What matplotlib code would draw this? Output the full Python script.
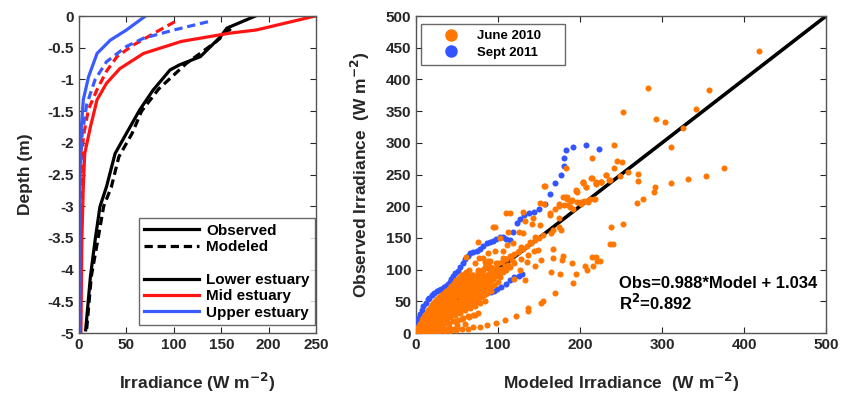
import numpy as np
import matplotlib.pyplot as plt
from matplotlib.lines import Line2D

plt.rcParams['font.family'] = ['Liberation Sans', 'DejaVu Sans']
plt.rcParams['font.weight'] = 'bold'
plt.rcParams['axes.unicode_minus'] = False
plt.rcParams['mathtext.default'] = 'bf'

# ---- left panel: irradiance profiles (depth in m, irradiance W m-2) ----
low_obs_x = [186, 156, 149, 128, 106, 96, 78, 64, 50, 38, 29, 22, 17, 12, 7]
low_obs_d = [0, -0.19, -0.33, -0.64, -0.77, -0.85, -1.17, -1.48, -1.85, -2.17, -2.69, -3.01, -3.53, -4.11, -4.95]
low_mod_x = [160, 145, 113, 84, 66, 56, 42, 34, 26, 19, 13, 8]
low_mod_d = [-0.2, -0.4, -0.75, -1.15, -1.5, -1.85, -2.22, -2.7, -3.0, -3.6, -4.1, -4.95]

mid_obs_x = [249, 187, 159, 108, 68, 43, 29, 19, 12, 6, 4.5, 3, 2]
mid_obs_d = [0, -0.22, -0.27, -0.4, -0.59, -0.83, -1.06, -1.32, -1.75, -2.17, -2.69, -3.5, -5]
mid_mod_x = [101, 84, 57, 40, 29, 19, 10, 4.5, 2.5, 1.5, 1]
mid_mod_d = [-0.09, -0.23, -0.46, -0.64, -0.87, -1.16, -1.47, -1.9, -2.5, -3.5, -5]

up_obs_x = [70, 50, 33, 19, 10, 4.5, 2, 0.7, 0.3, 0]
up_obs_d = [0, -0.22, -0.38, -0.59, -0.96, -1.32, -1.85, -2.5, -3.5, -5]
up_mod_x = [136, 100, 68, 50, 29, 17, 8, 3, 1, 0.5, 0.3]
up_mod_d = [-0.09, -0.22, -0.35, -0.48, -0.72, -1.0, -1.4, -1.9, -2.6, -3.5, -5]

# ---- right panel: observed vs modeled irradiance ----
june_x = [418, 283, 357, 253, 341, 293, 304, 325, 311, 241, 214, 245, 251, 241, 183, 376, 259, 271,
          232, 353, 214, 249, 237, 271, 332, 204, 226, 219, 311, 156, 207, 292, 195, 179, 184, 277,
          196, 205, 212, 269, 290, 110, 130, 151, 238, 253, 237, 215, 221, 206, 195, 190, 178, 176,
          191, 170, 152, 137, 122, 108, 97, 87, 78, 70, 63, 56, 49, 42, 35, 28, 21,
          115, 96, 131, 141, 151, 163, 174, 174, 165, 145, 139, 128, 111, 118, 149, 153, 164, 145,
          135, 127, 119, 117, 106, 98, 88, 82, 88, 96, 106, 155, 137, 133, 75, 94, 61, 77,
          167, 177, 167, 167, 179, 209, 216, 219, 224, 240, 163, 174, 182, 185, 190, 191, 201,
          210, 218, 196, 204, 220, 226, 157, 156, 184, 189, 195, 204, 207, 213, 219, 226, 232,
          235, 201, 209, 217, 174, 180, 188, 170, 133, 143, 125, 102, 112]
june_y = [445, 387, 383, 348, 354, 337, 333, 324, 294, 297, 276, 272, 269, 260, 260, 261, 254, 251,
          249, 248, 245, 247, 242, 240, 243, 237, 238, 235, 236, 232, 230, 230, 225, 215, 211, 212,
          206, 208, 211, 205, 223, 190, 191, 205, 168, 172, 140, 120, 114, 105, 93, 111, 115, 93,
          79, 63, 48, 35, 27, 20, 16, 13, 10, 9, 7, 6, 5, 4, 3, 2, 2,
          190, 168, 157, 172, 170, 186, 181, 168, 157, 152, 144, 136, 139, 142, 131, 115, 97, 105,
          112, 99, 86, 115, 118, 110, 113, 118, 126, 129, 129, 50, 39, 84, 144, 167, 120, 118,
          162, 163, 133, 118, 121, 100, 105, 120, 114, 140, 189, 200, 215, 202, 210, 195, 204,
          207, 211, 223, 239, 239, 239, 232, 204, 215, 209, 224, 238, 230, 245, 236, 239, 250,
          241, 206, 208, 211, 203, 202, 199, 196, 176, 182, 160, 150, 160]

# dense cloud near the origin, read streak by streak
dense_x = [2, 4, 6, 8, 10, 12, 14, 16, 18, 20, 22, 25, 28, 31, 34, 37, 40, 43, 46, 49, 52, 55,
           3, 6, 9, 12, 15, 18, 21, 24, 27, 30, 33, 36, 39, 42, 45, 48, 51, 54, 57, 60, 63, 66, 69, 72, 75, 78, 82, 86,
           4, 8, 12, 16, 20, 24, 28, 32, 36, 40, 44, 48, 52, 56, 60, 64, 68, 72, 76, 80, 84, 88, 92, 96, 100, 104, 108, 112,
           5, 10, 15, 20, 25, 30, 35, 40, 45, 50, 55, 60, 65, 70, 75, 80, 85, 90, 95, 100,
           6, 12, 18, 24, 30, 36, 42, 48, 54, 60, 66, 72, 78, 84,
           8, 16, 24, 32, 40, 48, 56, 64, 72,
           10, 20, 30, 40, 50, 60,
           1, 2, 3, 1, 5, 7, 9, 11, 13, 14, 17, 19, 22, 23, 26, 27, 29, 31, 33, 35, 38, 39, 41, 43, 44,
           46, 47, 50, 53, 54, 57, 58, 61, 62, 65, 67, 70, 71, 74, 77, 79, 83, 87, 90, 94, 98, 102, 106,
           110, 115, 68, 72, 80, 85, 92, 66, 75, 84, 90,
           3, 5, 7, 9, 11, 13, 15, 17, 19, 21, 23, 26, 29, 32, 35, 38, 41, 44, 47, 50, 53, 56, 59, 62, 65,
           4, 7, 10, 13, 17, 21, 25, 29, 33, 37, 41, 45, 49, 53, 57, 61, 65, 69, 73, 77, 81, 85, 89, 93,
           5, 9, 13, 17, 22, 26, 31, 35, 39, 43, 47, 51, 55, 59, 63, 67, 71, 75, 79, 83, 87, 91,
           7, 14, 21, 27, 33, 39, 45, 51, 57, 63, 69, 75,
           2, 4, 6, 8, 11, 14, 18, 22, 26, 30, 34, 38, 42, 46, 50,
           105, 110, 115, 120, 125, 130, 135, 140, 145, 150, 155,
           104, 112, 120, 128, 136, 144, 100, 108, 116, 124, 92, 98, 86,
           # upper part of the cloud, just under the blue edge
           3, 5, 7, 9, 11, 13, 15, 17, 19, 21, 23, 25, 28, 31, 34, 37, 40, 43, 46, 49, 52, 55,
           3, 5, 7, 9, 11, 13, 15, 17, 19, 21, 23, 25, 28, 31, 34, 37, 40, 43, 46, 49, 52, 55, 58, 61, 64,
           58, 62, 66, 70, 74, 78, 82, 86, 70, 74, 78, 82, 86, 90, 76, 80, 84, 88, 62, 66, 70]
dense_y = [5, 8, 11, 13, 17, 20, 23, 26, 29, 32, 35, 39, 44, 49, 53, 58, 63, 67, 72, 77, 82, 88,
           3, 7, 11, 14, 18, 22, 25, 29, 33, 36, 40, 44, 47, 51, 55, 58, 62, 66, 70, 73, 77, 80, 84, 88, 92, 95, 99, 103,
           4, 8, 12, 16, 19, 23, 27, 31, 35, 39, 43, 47, 51, 55, 59, 62, 66, 70, 74, 78, 82, 86, 90, 94, 97, 101, 105, 108,
           4, 8, 12, 16, 20, 24, 28, 32, 36, 40, 44, 48, 52, 56, 60, 64, 68, 72, 76, 80,
           3, 7, 11, 14, 18, 21, 25, 29, 32, 36, 40, 43, 47, 50,
           3, 6, 10, 13, 16, 19, 22, 26, 29,
           2, 5, 7, 10, 12, 15,
           1, 2, 1, 3, 2, 5, 6, 9, 10, 16, 13, 24, 18, 27, 22, 31, 21, 38, 27, 42, 30, 52, 45, 34, 56,
           50, 38, 66, 44, 58, 48, 76, 53, 68, 58, 74, 62, 80, 65, 84, 72, 90, 76, 96, 85, 90, 88, 96,
           100, 104, 92, 110, 98, 108, 104, 88, 100, 112, 114,
           6, 9, 12, 15, 18, 21, 23, 26, 29, 32, 35, 39, 43, 47, 51, 55, 59, 63, 67, 71, 75, 79, 83, 87, 91,
           4, 7, 10, 13, 16, 20, 24, 27, 31, 35, 38, 42, 45, 49, 53, 56, 60, 63, 67, 71, 74, 78, 81, 85,
           3, 6, 9, 12, 15, 18, 21, 24, 27, 30, 33, 36, 39, 42, 45, 48, 51, 54, 57, 60, 63, 66,
           2, 5, 8, 11, 13, 16, 19, 21, 24, 27, 29, 32,
           1, 1, 2, 2, 3, 3, 4, 4, 5, 5, 6, 6, 7, 7, 8,
           112, 116, 121, 125, 130, 133, 138, 142, 146, 150, 155,
           98, 104, 110, 117, 123, 130, 110, 116, 122, 128, 96, 102, 92,
           10, 15, 20, 24, 28, 32, 36, 40, 44, 47, 50, 53, 57, 60, 63, 66, 69, 74, 79, 83, 87, 91,
           8, 14, 19, 23, 28, 31, 35, 38, 42, 45, 48, 51, 55, 58, 62, 65, 69, 73, 77, 81, 85, 89, 93, 97, 100,
           62, 66, 71, 75, 79, 83, 87, 91, 64, 68, 72, 76, 80, 84, 96, 100, 104, 108, 84, 88, 92]

sept_x = [1, 2, 3, 5, 7, 9, 12, 14, 16, 19, 22, 25, 28, 31, 34, 37, 39, 41, 43, 45, 48, 51, 54, 57,
          60, 63, 66, 70, 74, 78, 82, 86, 90, 94, 98, 102, 106, 110, 114, 118, 123, 127, 132, 138,
          144, 150, 157, 163, 170, 177, 180, 180, 183, 192, 207, 223,
          24, 28, 32, 36, 55, 59, 63, 67, 71, 75, 79, 83, 87, 91, 95, 99, 104, 110, 115, 120, 125, 129]
sept_y = [10, 18, 24, 30, 36, 42, 48, 53, 56, 60, 63, 66, 68, 70, 72, 74, 77, 81, 86, 90, 94, 98, 104, 110,
          117, 122, 126, 128, 129, 132, 138, 142, 143, 145, 148, 151, 152, 149, 146, 160, 174, 180, 186, 189,
          191, 196, 204, 219, 236, 250, 263, 276, 288, 294, 297, 291,
          3, 3, 4, 5, 38, 42, 44, 46, 48, 52, 58, 61, 63, 65, 67, 69, 72, 78, 84, 88, 90, 93]

line_x = [0, 500]
line_y = [0, 500]

fig = plt.figure(figsize=(8.61, 3.96), dpi=100)
ax1 = fig.add_axes([0.0918, 0.159, 0.2753, 0.8005])
ax2 = fig.add_axes([0.4832, 0.159, 0.4762, 0.8005])

red = '#ff1414'
blue = '#3a5cff'
orange = '#ff7700'
sblue = '#3355ff'
dash = (2.6, 1.5)
lw = 2.3

ax1.plot(low_obs_x, low_obs_d, color='k', lw=lw)
ax1.plot(low_mod_x, low_mod_d, color='k', lw=lw, dashes=dash)
ax1.plot(mid_obs_x, mid_obs_d, color=red, lw=lw)
ax1.plot(mid_mod_x, mid_mod_d, color=red, lw=lw, dashes=dash)
ax1.plot(up_obs_x, up_obs_d, color=blue, lw=lw)
ax1.plot(up_mod_x, up_mod_d, color=blue, lw=lw, dashes=dash)

ax1.set_xlim(0, 250)
ax1.set_ylim(-5, 0)
ax1.set_xticks([0, 50, 100, 150, 200, 250])
yt = [0, -0.5, -1, -1.5, -2, -2.5, -3, -3.5, -4, -4.5, -5]
ax1.set_yticks(yt)
ax1.set_yticklabels(['0', '-0.5', '-1', '-1.5', '-2', '-2.5', '-3', '-3.5', '-4', '-4.5', '-5'])
ax1.set_xlabel('Irradiance (W m$^{-2}$)', fontsize=12.5, fontweight='bold', labelpad=14)
ax1.set_ylabel('Depth (m)', fontsize=12.5, fontweight='bold', labelpad=11)

handles = [Line2D([], [], color='k', lw=lw),
           Line2D([], [], color='k', lw=lw, dashes=dash),
           Line2D([], [], color='none'),
           Line2D([], [], color='k', lw=lw),
           Line2D([], [], color=red, lw=lw),
           Line2D([], [], color=blue, lw=lw)]
labels = ['Observed', 'Modeled', ' ', 'Lower estuary', 'Mid estuary', 'Upper estuary']
leg1 = ax1.legend(handles, labels, loc='lower right', bbox_to_anchor=(0.996, 0.025),
                  borderaxespad=0, fancybox=False, edgecolor='#444444', fontsize=11,
                  handlelength=3.6, handletextpad=0.45, labelspacing=0.16, borderpad=0.35)
leg1.get_frame().set_linewidth(1.0)

ax2.plot(line_x, line_y, color='k', lw=2.6, zorder=2)
ax2.scatter(sept_x, sept_y, s=19, color=sblue, lw=0, zorder=3)
ax2.scatter(june_x + dense_x, june_y + dense_y, s=19, color=orange, lw=0, zorder=4)
ax2.set_xlim(0, 500)
ax2.set_ylim(0, 500)
ax2.set_xticks(range(0, 501, 100))
ax2.set_yticks(range(0, 501, 50))
ax2.set_xlabel('Modeled Irradiance  (W m$^{-2}$)', fontsize=12.5, fontweight='bold', labelpad=14)
ax2.set_ylabel('Observed Irradiance  (W m$^{-2}$)', fontsize=12.5, fontweight='bold', labelpad=10)
ax2.text(248, 71, 'Obs=0.988*Model + 1.034', fontsize=12, fontweight='bold')
ax2.text(248, 36, 'R$^{2}$=0.892', fontsize=12, fontweight='bold')

h2 = [Line2D([], [], ls='', marker='o', ms=8, color=orange),
      Line2D([], [], ls='', marker='o', ms=8, color=sblue)]
leg2 = ax2.legend(h2, ['June 2010     ', 'Sept 2011     '], loc='upper left',
                  bbox_to_anchor=(0.012, 0.975), borderaxespad=0, fancybox=False,
                  edgecolor='#444444', fontsize=9.5, handlelength=3.6, handletextpad=0.2,
                  labelspacing=0.35, borderpad=0.45)
leg2.get_frame().set_linewidth(1.0)

for ax in (ax1, ax2):
    ax.tick_params(direction='in', top=True, right=True, labelsize=11, colors='#262626',
                   length=4, width=0.8)
    for lab in ax.get_xticklabels() + ax.get_yticklabels():
        lab.set_fontweight('bold')
    for sp in ax.spines.values():
        sp.set_color('#555555')
        sp.set_linewidth(1.0)
    ax.xaxis.label.set_color('#262626')
    ax.yaxis.label.set_color('#262626')

fig.savefig('out.png', dpi=100)
